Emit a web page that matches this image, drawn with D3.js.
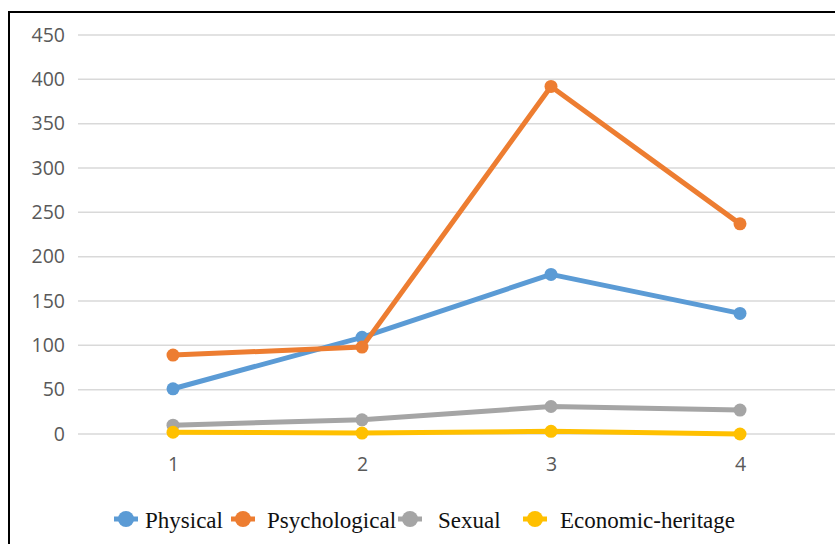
<!DOCTYPE html>
<html>
<head>
<meta charset="utf-8">
<script src="https://cdn.jsdelivr.net/npm/d3@7"></script>
<style>
  html, body { margin: 0; padding: 0; background: #fff; }
  svg { display: block; }
</style>
</head>
<body>
<svg id="chart" width="835" height="544"></svg>
<script>
// Categories on the x axis
const categories = ["1", "2", "3", "4"];
// Series values per category
const physical = [51, 109, 180, 136];
const psychological = [89, 98, 392, 237];
const sexual = [10, 16, 31, 27];
const economicHeritage = [2, 1, 3, 0];
// Tick labels on the y axis
const yTicks = [0, 50, 100, 150, 200, 250, 300, 350, 400, 450];

const seriesNames = ["Physical", "Psychological", "Sexual", "Economic-heritage"];
const seriesValues = [physical, psychological, sexual, economicHeritage];
const colors = ["#5b9bd5", "#ed7d31", "#a5a5a5", "#ffc000"];

const svg = d3.select("#chart");

// Outer frame (top and left edges visible)
svg.append("line").attr("x1", 8.5).attr("x2", 835).attr("y1", 12).attr("y2", 12)
  .attr("stroke", "#000").attr("stroke-width", 2);
svg.append("line").attr("x1", 9).attr("x2", 9).attr("y1", 11).attr("y2", 544)
  .attr("stroke", "#000").attr("stroke-width", 2);

const x = d3.scalePoint().domain(categories).range([173, 740]);
const y = d3.scaleLinear().domain([0, 450]).range([434, 35]);

// Horizontal gridlines
svg.append("g").selectAll("line").data(yTicks).join("line")
  .attr("x1", 78).attr("x2", 835)
  .attr("y1", d => y(d)).attr("y2", d => y(d))
  .attr("stroke", "#d9d9d9").attr("stroke-width", 1.5);

// Y axis labels
const yAxis = d3.axisLeft(y).tickValues(yTicks).tickSize(0).tickPadding(0);
const gy = svg.append("g").attr("transform", "translate(65,0)").call(yAxis);
gy.select(".domain").remove();
gy.selectAll("text").attr("font-family", "'Open Sans', sans-serif")
  .attr("font-size", 19.5).attr("fill", "#595959");

// X axis labels
const xAxis = d3.axisBottom(x).tickSize(0).tickPadding(0);
const gx = svg.append("g").attr("transform", "translate(0,457)").call(xAxis);
gx.select(".domain").remove();
gx.selectAll("text").attr("font-family", "'Open Sans', sans-serif")
  .attr("font-size", 19.5).attr("fill", "#595959");

// Lines with circular markers; later series are drawn on top
const line = d3.line().x((d, i) => x(categories[i])).y(d => y(d));
seriesValues.forEach((vals, i) => {
  const g = svg.append("g");
  g.append("path").datum(vals).attr("d", line)
    .attr("fill", "none").attr("stroke", colors[i]).attr("stroke-width", 5)
    .attr("stroke-linejoin", "round");
  g.selectAll("circle").data(vals).join("circle")
    .attr("cx", (d, j) => x(categories[j])).attr("cy", d => y(d))
    .attr("r", 6.5).attr("fill", colors[i]);
});

// Legend
const legendItems = [
  { mx: 126, tx: 145 },
  { mx: 243, tx: 267 },
  { mx: 410, tx: 438 },
  { mx: 535, tx: 560 }
];
const legend = svg.append("g");
seriesNames.forEach((name, i) => {
  const it = legendItems[i];
  legend.append("line").attr("x1", it.mx - 12).attr("x2", it.mx + 12)
    .attr("y1", 519).attr("y2", 519).attr("stroke", colors[i]).attr("stroke-width", 5);
  legend.append("circle").attr("cx", it.mx).attr("cy", 519).attr("r", 8).attr("fill", colors[i]);
  legend.append("text").attr("x", it.tx).attr("y", 528)
    .attr("font-family", "'Liberation Serif', 'Times New Roman', serif")
    .attr("font-size", 23).attr("fill", "#111").text(name);
});
</script>
</body>
</html>
